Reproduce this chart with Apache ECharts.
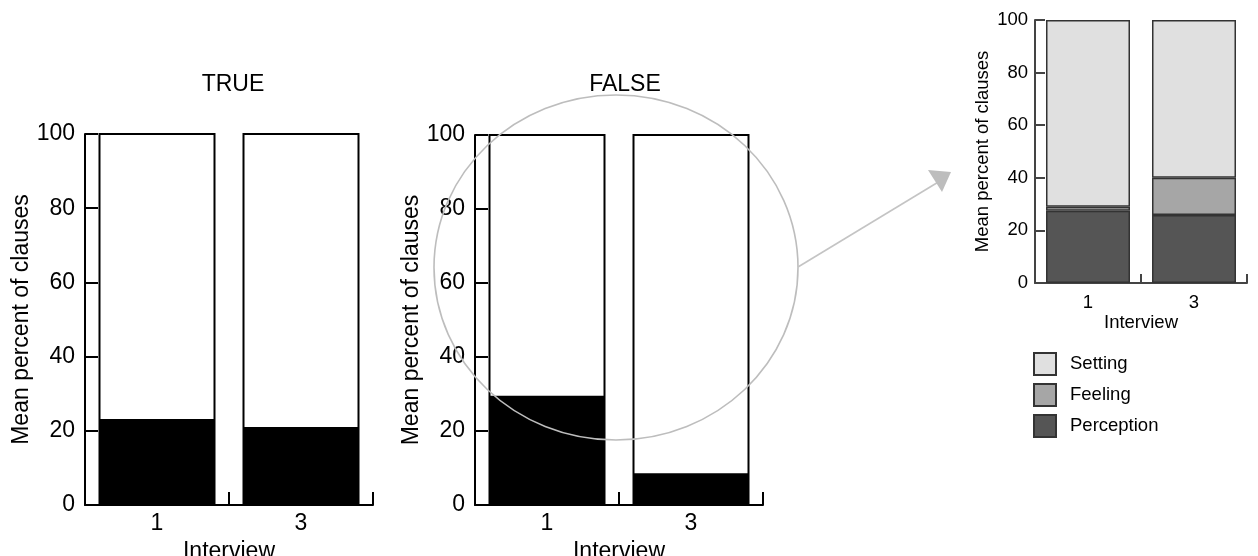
<!DOCTYPE html>
<html>
<head>
<meta charset="utf-8">
<script src="https://cdn.jsdelivr.net/npm/echarts@6/dist/echarts.min.js"></script>
<style>html,body{margin:0;padding:0;background:#fff;}#c{width:1258px;height:556px;}</style>
</head>
<body>
<div id="c"></div>
<script>
const categories = ['1', '3'];
const yTicks = [0, 20, 40, 60, 80, 100];
const trueValues = [23.2, 21.0];
const falseValues = [29.5, 8.6];
const perception = [27.5, 25.9];
const feeling = [1.5, 14.1];
const setting = [71.0, 60.0];
const legendNames = ['Setting', 'Feeling', 'Perception'];

const FONT = "'Liberation Sans', Arial, Helvetica, sans-serif";
const chart = echarts.init(document.getElementById('c'));

function yAxis(gi, big) {
  return {
    type: 'value', gridIndex: gi, min: yTicks[0], max: yTicks[yTicks.length - 1], interval: 20,
    name: 'Mean percent of clauses', nameLocation: 'middle', nameRotate: 90,
    nameGap: big ? 51 : 43,
    nameTextStyle: { fontFamily: FONT, fontSize: big ? 23 : 18.5, color: '#000' },
    axisLine: { show: true, lineStyle: { color: big ? '#000' : '#444', width: 2 } },
    axisTick: { show: true, inside: true, length: big ? 13 : 10, lineStyle: { color: big ? '#000' : '#444', width: 2 } },
    axisLabel: { fontFamily: FONT, fontSize: big ? 23 : 18.5, color: '#000', margin: big ? 10 : 7 },
    splitLine: { show: false }
  };
}
function xAxis(gi, big) {
  return {
    type: 'category', gridIndex: gi, data: categories,
    name: 'Interview', nameLocation: 'middle', nameGap: big ? 31 : 30,
    nameTextStyle: { fontFamily: FONT, fontSize: big ? 23 : 18.5, color: '#000' },
    axisLine: { show: true, lineStyle: { color: big ? '#000' : '#444', width: 2 } },
    axisTick: { show: true, inside: true, length: big ? 13 : 9, alignWithLabel: false, lineStyle: { color: big ? '#000' : '#444', width: 2 } },
    axisLabel: { fontFamily: FONT, fontSize: big ? 23 : 18.5, color: '#000', margin: big ? 7 : 10 },
    splitLine: { show: false }
  };
}
function bwSeries(name, gi, data) {
  return {
    name: name, type: 'bar', xAxisIndex: gi, yAxisIndex: gi, data: data, barWidth: 115,
    itemStyle: { color: '#000', borderColor: '#000', borderWidth: 2 },
    showBackground: true,
    backgroundStyle: { color: '#fff', borderColor: '#000', borderWidth: 2 },
    silent: true
  };
}
function stackSeries(name, data, color) {
  return {
    name: name, type: 'bar', xAxisIndex: 2, yAxisIndex: 2, stack: 'r', data: data, barWidth: 84,
    itemStyle: { color: color, borderColor: '#333', borderWidth: 1.5 },
    silent: true
  };
}

chart.setOption({
  animation: false,
  backgroundColor: '#fff',
  title: [
    { text: 'TRUE', left: 228, top: 68, textAlign: 'center', textStyle: { fontFamily: FONT, fontSize: 23, fontWeight: 'normal', color: '#000' } },
    { text: 'FALSE', left: 620, top: 68, textAlign: 'center', textStyle: { fontFamily: FONT, fontSize: 23, fontWeight: 'normal', color: '#000' } }
  ],
  grid: [
    { left: 85, top: 134, width: 288, height: 371, containLabel: false, outerBoundsMode: 'none' },
    { left: 475, top: 135, width: 288, height: 370, containLabel: false, outerBoundsMode: 'none' },
    { left: 1035, top: 20, width: 212, height: 263, containLabel: false, outerBoundsMode: 'none' }
  ],
  xAxis: [xAxis(0, true), xAxis(1, true), xAxis(2, false)],
  yAxis: [yAxis(0, true), yAxis(1, true), yAxis(2, false)],
  legend: {
    data: legendNames, orient: 'vertical', left: 1033, top: 352, padding: 0,
    itemWidth: 22, itemHeight: 22, itemGap: 7, icon: 'rect',
    itemStyle: { borderColor: '#333', borderWidth: 2 },
    textStyle: { fontFamily: FONT, fontSize: 18.5, color: '#000', padding: [0, 0, 0, 9] },
    selectedMode: false
  },
  series: [
    bwSeries('TRUE', 0, trueValues),
    bwSeries('FALSE', 1, falseValues),
    stackSeries('Perception', perception, '#555555'),
    stackSeries('Feeling', feeling, '#a6a6a6'),
    stackSeries('Setting', setting, '#e0e0e0')
  ],
  graphic: [
    { type: 'ellipse', z: 100, silent: true, shape: { cx: 616, cy: 267.5, rx: 182, ry: 172.5 }, style: { fill: null, stroke: '#bdbdbd', lineWidth: 1.6 } },
    { type: 'line', z: 100, silent: true, shape: { x1: 798, y1: 267, x2: 940, y2: 181 }, style: { stroke: '#c4c4c4', lineWidth: 1.6 } },
    { type: 'polygon', z: 100, silent: true, shape: { points: [[928, 170], [951, 172], [942, 192]] }, style: { fill: '#bdbdbd' } }
  ]
});
</script>
</body>
</html>
